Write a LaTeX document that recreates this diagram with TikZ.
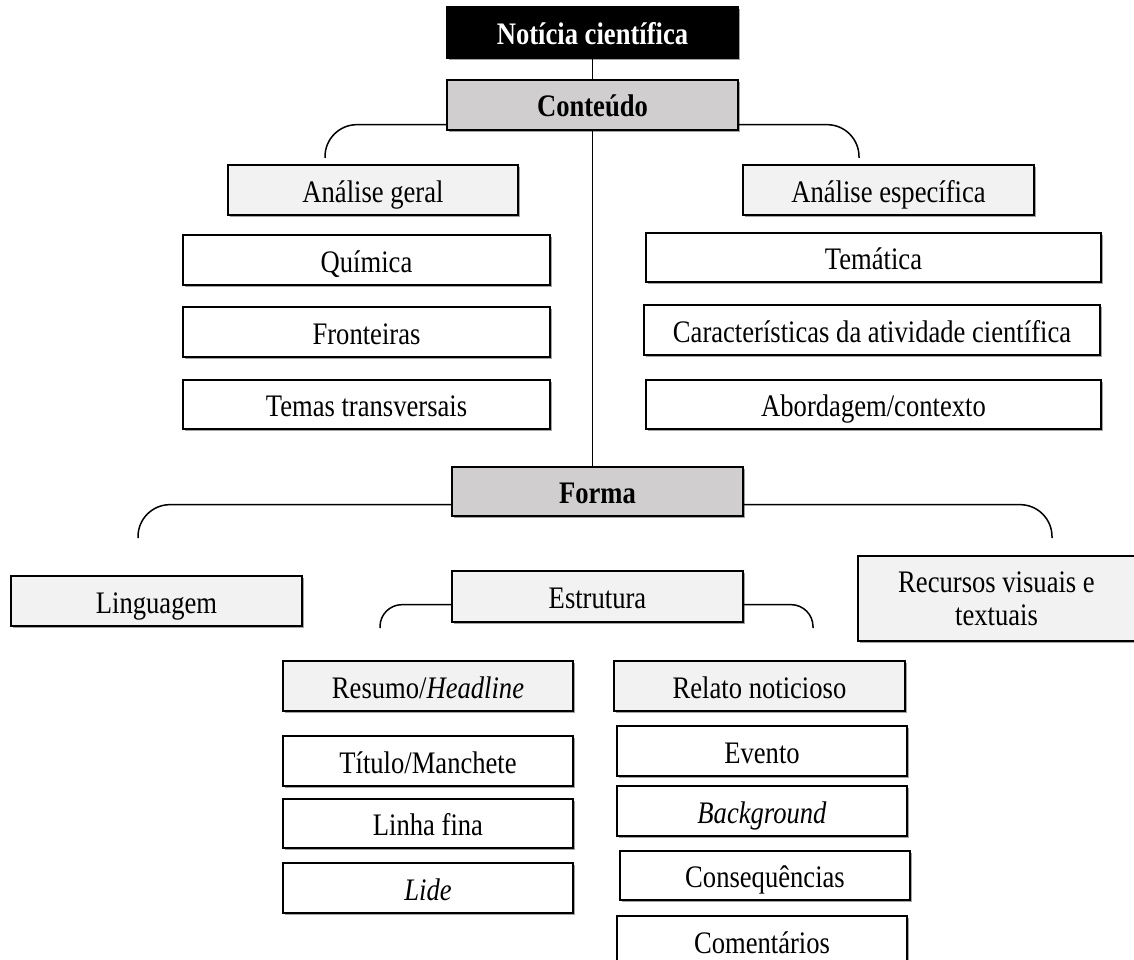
\documentclass[tikz,border=0pt]{standalone}
\usepackage{fontspec}
\setmainfont{Liberation Serif}[FakeStretch=0.85]
\usetikzlibrary{shadows}
\definecolor{midgray}{HTML}{D0CECF}
\definecolor{lightgray}{HTML}{F2F2F2}
\begin{document}
\begin{tikzpicture}[x=1pt,y=-1pt,
  box/.style={draw=black, line width=1.3pt, inner sep=0pt, minimum height=50pt,
    text height=24pt, text depth=0pt,
    font=\fontsize{31.3}{33}\selectfont,
    drop shadow={shadow xshift=1.6pt, shadow yshift=-1.6pt, fill=black!45, opacity=0.8}},
  plainbox/.style={box, fill=white},
  lightbox/.style={box, fill=lightgray},
  headbox/.style={box, fill=midgray, font=\fontsize{31.3}{33}\selectfont\bfseries},
  topbox/.style={box, fill=black, text=white, font=\fontsize{31.3}{33}\selectfont\bfseries},
  link/.style={line width=1.5pt}]
\useasboundingbox (0,0) rectangle (1134,960);

% top of the tree
\node[topbox, minimum width=291pt, minimum height=51pt] (news) at (592.5,32.5) {Notícia científica};
\node[headbox, minimum width=291pt] (cont) at (592.5,105) {Conteúdo};

% content branch
\node[lightbox, minimum width=290pt] (ag) at (373,190) {Análise geral};
\node[lightbox, minimum width=291pt] (ae) at (888.5,190) {Análise específica};
\node[plainbox, minimum width=367pt] (quim) at (366.5,260) {Química};
\node[plainbox, minimum width=367pt] (front) at (366.5,332) {Fronteiras};
\node[plainbox, minimum width=367pt, minimum height=49pt] (temas) at (366.5,404.5) {Temas transversais};
\node[plainbox, minimum width=455pt, minimum height=49pt] (tem) at (873.5,257.5) {Temática};
\node[plainbox, minimum width=456pt] (carac) at (872,330) {Características da atividade científica};
\node[plainbox, minimum width=455pt, minimum height=49pt] (abord) at (873.5,404.5) {Abordagem/contexto};

% form branch
\node[headbox, minimum width=291pt, minimum height=49pt] (forma) at (597.5,491.5) {Forma};
\node[lightbox, minimum width=291pt] (ling) at (156.5,601) {Linguagem};
\node[lightbox, minimum width=291pt, minimum height=51pt] (estr) at (597.5,596.5) {Estrutura};
\node[lightbox, minimum width=277pt, minimum height=85pt, align=center,
      text height={}, text depth={}] (rec) at (996.5,598.5) {Recursos visuais e\\textuais};

% structure sub-branches
\node[lightbox, minimum width=290pt] (resumo) at (428,686) {Resumo/\textit{Headline}};
\node[lightbox, minimum width=291pt] (relato) at (759.5,686) {Relato noticioso};
\node[plainbox, minimum width=290pt] (titulo) at (428,761) {Título/Manchete};
\node[plainbox, minimum width=290pt, minimum height=49pt] (linha) at (428,823.5) {Linha fina};
\node[plainbox, minimum width=290pt] (lide) at (428,888) {\textit{Lide}};
\node[plainbox, minimum width=290pt] (evento) at (762,751) {Evento};
\node[plainbox, minimum width=290pt] (backg) at (762,811) {\textit{Background}};
\node[plainbox, minimum width=290pt, minimum height=49pt] (conseq) at (765,875.5) {Consequências};
\node[plainbox, minimum width=290pt] (coment) at (762,941) {Comentários};

% bracket ends
\coordinate (cl) at (325,158);
\coordinate (cr) at (859,158);
\coordinate (fl) at (138,538);
\coordinate (fr) at (1052,538);
\coordinate (el) at (380,628);
\coordinate (er) at (813,628);

% connectors
\draw[link] (news.south) -- (cont.north);
\draw[link] (cont.south) -- (cont.south |- forma.north);
\draw[link, rounded corners=32pt] ([yshift=6pt]cont.south west) -| (cl);
\draw[link, rounded corners=32pt] ([yshift=6pt]cont.south east) -| (cr);
\draw[link, rounded corners=32pt] ([yshift=12pt]forma.south west) -| (fl);
\draw[link, rounded corners=32pt] ([yshift=12pt]forma.south east) -| (fr);
\draw[link, rounded corners=22pt] ([yshift=18pt]estr.south west) -| (el);
\draw[link, rounded corners=22pt] ([yshift=18pt]estr.south east) -| (er);
\end{tikzpicture}
\end{document}
